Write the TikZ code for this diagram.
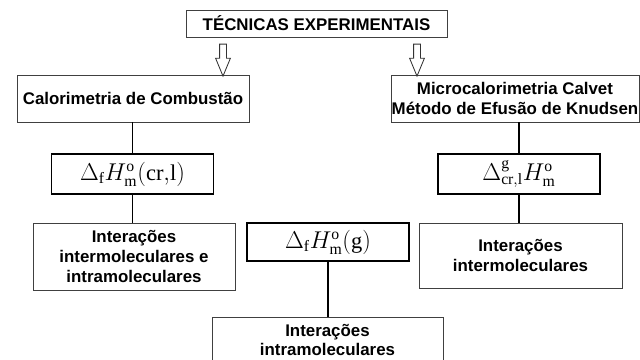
\documentclass[tikz,border=0pt]{standalone}
\usepackage{fontspec}
\setmainfont{Liberation Serif}
\newfontfamily\labelfont{Liberation Sans}
\usetikzlibrary{shapes.arrows}
\begin{document}
\begin{tikzpicture}[x=0.025cm,y=-0.025cm,
  txtbox/.style={draw=black!75, line width=0.6pt, align=center, inner sep=0pt,
    font=\labelfont\bfseries\fontsize{12}{14.2}\selectfont},
  quantbox/.style={draw, line width=1.4pt, inner sep=0pt, minimum width=162*0.025cm,
    font=\fontsize{16}{18}\selectfont},
  fatarrow/.style={draw=black!80, line width=0.6pt, single arrow, shape border rotate=270,
    minimum height=0.8cm, minimum width=0.35cm, inner sep=0.075cm,
    single arrow tip angle=45, single arrow head extend=0.1cm}]
\useasboundingbox (0,0) rectangle (640,360);
\node[txtbox, minimum width=261*0.025cm, minimum height=27*0.025cm] (tec) at (316.5,23.5) {TÉCNICAS EXPERIMENTAIS};
\node[txtbox, minimum width=232*0.025cm, minimum height=47*0.025cm] (comb) at (133,98.5) {Calorimetria de Combustão};
\node[txtbox, minimum width=248*0.025cm, minimum height=47*0.025cm] (calv) at (515,98.5) {Microcalorimetria Calvet\\Método de Efusão de Knudsen};
\node[fatarrow] (arrl) at (223,56) {};
\node[fatarrow] (arrr) at (417,56) {};
\node[quantbox, minimum height=40*0.025cm] (dcomb) at (132.5,174) {$\Delta_{\mathrm{f}}H^{\mathrm{o}}_{\mathrm{m}}(\mathrm{cr{,}l})$};
\node[quantbox, minimum height=40*0.025cm] (dcalv) at (519,174) {$\Delta^{\mathrm{g}}_{\mathrm{cr{,}l}}H^{\mathrm{o}}_{\mathrm{m}}$};
\node[quantbox, minimum height=38*0.025cm] (dgas) at (328,242) {$\Delta_{\mathrm{f}}H^{\mathrm{o}}_{\mathrm{m}}(\mathrm{g})$};
\node[txtbox, minimum width=202*0.025cm, minimum height=67*0.025cm] (inter1) at (134,256.5) {Interações\\intermoleculares e\\intramoleculares};
\node[txtbox, minimum width=203*0.025cm, minimum height=65*0.025cm] (inter2) at (520.5,255.5) {Interações\\intermoleculares};
\node[txtbox, minimum width=231*0.025cm, minimum height=46*0.025cm] (intra) at (327.5,340) {Interações\\intramoleculares};
% connectors
\draw[line width=1.4pt] (comb.south -| dcomb.north) -- (dcomb.north);
\draw[line width=1.4pt] (dcomb.south) -- (dcomb.south |- inter1.north);
\draw[line width=1.4pt] (dcalv.north |- calv.south) -- (dcalv.north);
\draw[line width=1.4pt] (dcalv.south) -- (dcalv.south |- inter2.north);
\draw[line width=1.4pt] (dgas.south) -- (dgas.south |- intra.north);
\end{tikzpicture}
\end{document}
